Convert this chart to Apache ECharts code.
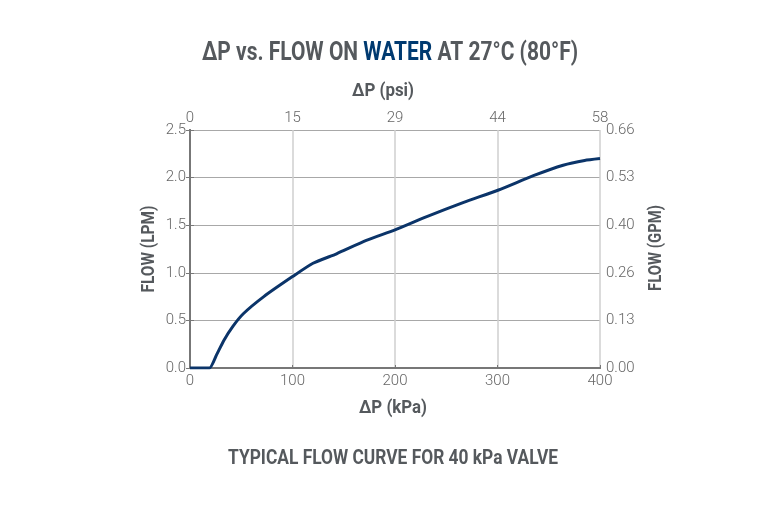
<!DOCTYPE html>
<html>
<head>
<meta charset="utf-8">
<script src="https://cdn.jsdelivr.net/npm/echarts@6/dist/echarts.min.js"></script>
<style>
  html, body { margin: 0; padding: 0; background: #fff; }
  #chart-container { width: 780px; height: 520px; }
</style>
</head>
<body>
<div id="chart-container"></div>
<script>
var dom = document.getElementById('chart-container');
var myChart = echarts.init(dom, null, { renderer: 'canvas' });

// pressure drop (kPa) and flow (LPM)
var kpa = [0, 10, 19, 26, 33, 42, 52, 72, 100, 120, 143, 172, 200, 231, 267, 301, 335, 364, 385, 400];
var lpm = [0.0, 0.0, 0.0, 0.14, 0.29, 0.44, 0.57, 0.75, 0.96, 1.10, 1.20, 1.34, 1.45, 1.59, 1.74, 1.87, 2.02, 2.13, 2.18, 2.20];

// secondary axis labels
var psiLabels = ['0', '15', '29', '44', '58'];
var gpmLabels = ['0.00', '0.13', '0.26', '0.40', '0.53', '0.66'];

var grey = '#55595d';
var navy = '#003a70';
var tickFont = 'Roboto, sans-serif';

// the reference uses a condensed face; squeeze Roboto to the same width
var measure = document.createElement('canvas').getContext('2d');
function squeeze(str, font, width) {
  measure.font = font;
  return width / measure.measureText(str).width;
}

function label(str, font, width, x, y, rot, rich) {
  var el = {
    type: 'text',
    x: x,
    y: y,
    rotation: rot || 0,
    scaleX: squeeze(str, font, width),
    style: {
      text: rich || str,
      font: font,
      fill: grey,
      align: 'center',
      verticalAlign: 'middle',
      textAlign: 'center',
      textVerticalAlign: 'middle'
    }
  };
  return el;
}

var titleFont = 'bold 25px Roboto';
var titlePlain = 'ΔP vs. FLOW ON WATER AT 27°C (80°F)';
var titleEl = label(titlePlain, titleFont, 376, 390, 54, 0,
  '{a|ΔP vs. FLOW ON }{b|WATER}{a| AT 27°C (80°F)}');
titleEl.style.rich = {
  a: { font: titleFont, fill: grey, color: grey },
  b: { font: titleFont, fill: navy, color: navy }
};

var points = kpa.map(function (k, i) { return [k, lpm[i]]; });

var option = {
  backgroundColor: '#fff',
  textStyle: { fontFamily: tickFont },
  graphic: [
    titleEl,
    label('ΔP (psi)', 'bold 18px Roboto', 62, 383, 91, 0),
    label('ΔP (kPa)', 'bold 18px Roboto', 68, 393, 408, 0),
    label('TYPICAL FLOW CURVE FOR 40 kPa VALVE', 'bold 21px Roboto', 330, 393, 459, 0),
    label('FLOW (LPM)', 'bold 18px Roboto', 87, 149, 249, Math.PI / 2),
    label('FLOW (GPM)', 'bold 18px Roboto', 86, 656, 248, Math.PI / 2)
  ],
  grid: { left: 190, right: 180, top: 130, bottom: 152 },
  xAxis: [
    {
      type: 'value', position: 'bottom', min: 0, max: 400, interval: 100,
      axisLine: { lineStyle: { color: '#777', width: 2 } },
      axisTick: { show: false },
      axisLabel: { color: '#666', fontSize: 15, fontWeight: 300, margin: 6 },
      splitLine: { lineStyle: { color: '#cfcfcf', width: 1.5 } }
    },
    {
      type: 'value', position: 'top', min: 0, max: 400, interval: 100,
      axisLine: { lineStyle: { color: '#777', width: 2 } },
      axisTick: { show: true, length: 3, lineStyle: { color: '#777' } },
      axisLabel: {
        color: '#666', fontSize: 15, fontWeight: 300, margin: 4,
        formatter: function (v) { return psiLabels[Math.round(v / 100)]; }
      },
      splitLine: { show: false }
    }
  ],
  yAxis: [
    {
      type: 'value', position: 'left', min: 0, max: 2.5, interval: 0.5,
      axisLine: { show: true, lineStyle: { color: '#777', width: 2 } },
      axisTick: { show: true, length: 4, lineStyle: { color: '#777' } },
      axisLabel: {
        color: '#666', fontSize: 15, fontWeight: 300, margin: 4,
        formatter: function (v) { return v.toFixed(1); }
      },
      splitLine: { lineStyle: { color: '#a8a8a8', width: 1 } }
    },
    {
      type: 'value', position: 'right', min: 0, max: 2.5, interval: 0.5,
      axisLine: { show: true, lineStyle: { color: '#777', width: 2 } },
      axisTick: { show: true, length: 4, lineStyle: { color: '#777' } },
      axisLabel: {
        color: '#666', fontSize: 15, fontWeight: 300, margin: 6,
        formatter: function (v) { return gpmLabels[Math.round(v / 0.5)]; }
      },
      splitLine: { show: false }
    }
  ],
  series: [
    {
      type: 'line',
      xAxisIndex: 0,
      yAxisIndex: 0,
      data: points,
      smooth: 0.2,
      symbol: 'none',
      lineStyle: { color: '#0b3469', width: 3 }
    }
  ],
  animation: false
};

myChart.setOption(option);
window.addEventListener('resize', myChart.resize);
</script>
</body>
</html>
